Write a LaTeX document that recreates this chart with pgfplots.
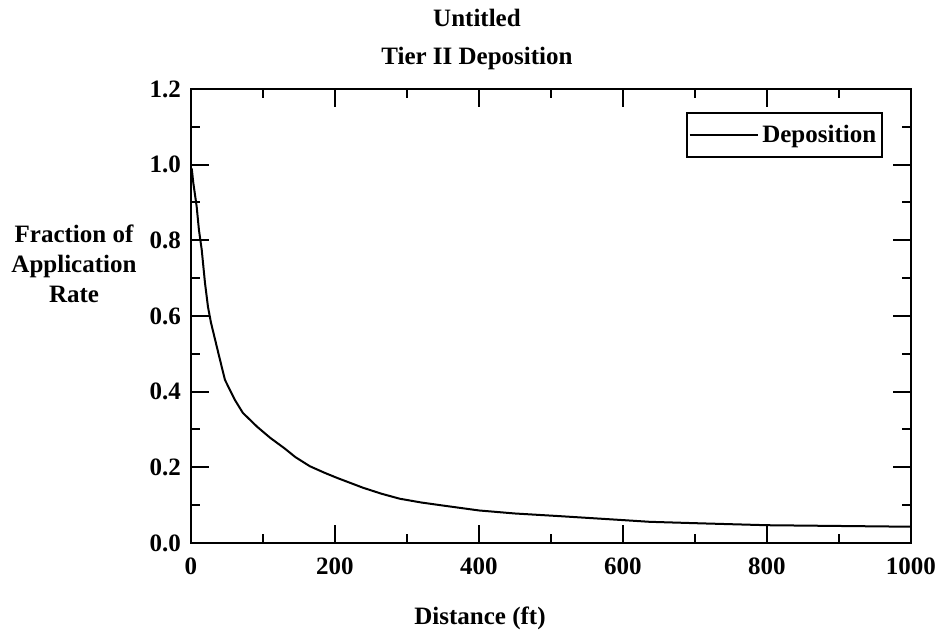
\documentclass[border=0pt]{standalone}
\usepackage{pgfplots}
\pgfplotsset{compat=1.18}
\usepackage{fontspec}
\setmainfont{Liberation Serif}

\begin{document}
\begin{tikzpicture}[font=\fontsize{12.5}{15}\selectfont\bfseries]
\useasboundingbox (-95.5pt,-45pt) rectangle (374pt,271.5pt);
\begin{axis}[
    scale only axis,
    width=360pt, height=227pt,
    at={(0,0)}, anchor=south west,
    xmin=0, xmax=1000,
    ymin=0, ymax=1.2,
    xtick={0,200,...,1000},
    ytick={0,0.2,...,1.2},
    minor x tick num=1,
    minor y tick num=1,
    tick align=inside,
    major tick length=9pt,
    minor tick length=4.5pt,
    axis line style={line width=1pt},
    every tick/.style={line width=1pt, black},
    /pgf/number format/assume math mode=true,
    /pgf/number format/set thousands separator={},
    yticklabel={\pgfmathprintnumber[fixed,fixed zerofill,precision=1]{\tick}},
    xticklabel style={yshift=-4pt},
    yticklabel style={xshift=-1.5pt},
    legend style={at={(1,1)}, anchor=north east, xshift=-14pt, yshift=-11.5pt,
        draw=black, line width=0.8pt, inner xsep=1pt, inner ysep=4pt},
    legend image code/.code={\draw[line width=0.6pt] (0pt,0pt) -- (34pt,0pt);},
]
\addplot[black, line width=1pt] coordinates {
    (1,0.99) (3.2,0.952) (7.9,0.889) (11,0.828) (14.9,0.775) (19.4,0.688)
    (23.6,0.624) (27.8,0.582) (35.7,0.520) (40.3,0.484) (47.2,0.431)
    (61,0.378) (72,0.344) (92,0.307) (110,0.278) (130,0.250) (145,0.227)
    (165,0.203) (185,0.186) (203,0.172) (239,0.146) (265,0.130) (290,0.117)
    (320,0.107) (350,0.099) (400,0.086) (450,0.078) (512,0.071) (596,0.061)
    (637,0.056) (707,0.052) (800,0.047) (900,0.045) (1000,0.043)
};
\addlegendentry{Deposition}
\end{axis}
\node at (143pt,262.5pt) {Untitled};
\node at (143pt,242.25pt) {Tier II Deposition};
\node at (144.5pt,-37.5pt) {Distance (ft)};
\node[align=center] at (-58.5pt,139.5pt) {Fraction of\\Application\\Rate};
\end{tikzpicture}
\end{document}
